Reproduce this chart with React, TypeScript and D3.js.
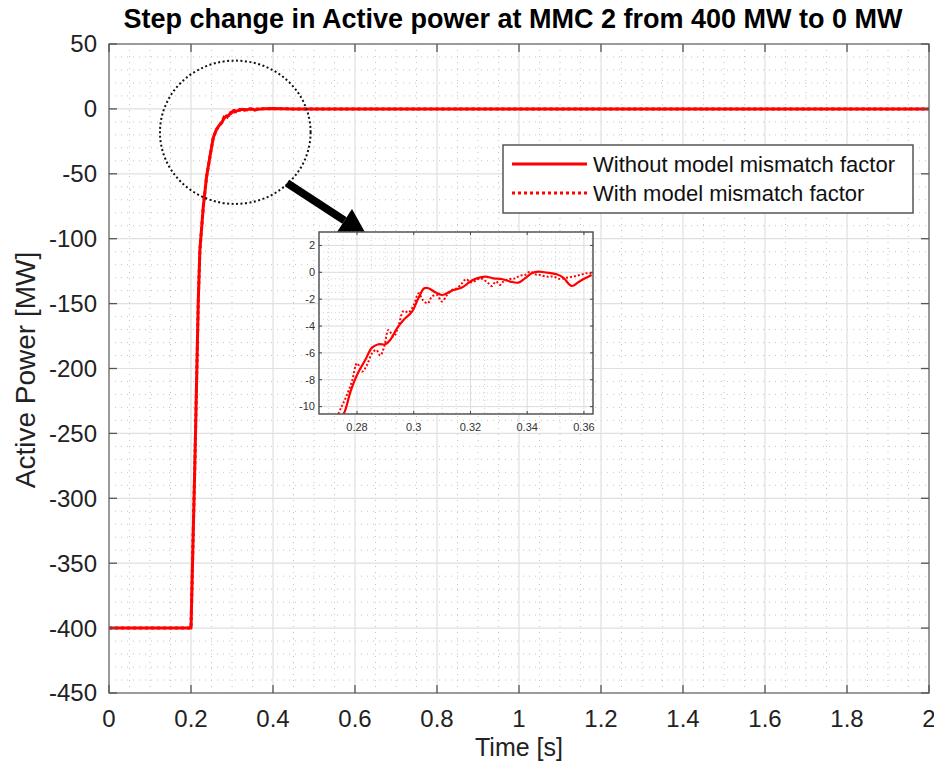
import React from 'react';
import * as d3 from 'd3';

const TITLE = 'Step change in Active power at MMC 2 from 400 MW to 0 MW';
const X_LABEL = 'Time [s]';
const Y_LABEL = 'Active Power [MW]';
const LEGEND_LABELS = ['Without model mismatch factor', 'With model mismatch factor'];

const xTicks = [0, 0.2, 0.4, 0.6, 0.8, 1, 1.2, 1.4, 1.6, 1.8, 2];
const yTicks = [50, 0, -50, -100, -150, -200, -250, -300, -350, -400, -450];
const insetXTicks = [0.28, 0.3, 0.32, 0.34, 0.36];
const insetYTicks = [2, 0, -2, -4, -6, -8, -10];

// Without model mismatch factor (solid)
const solidTime = [
  0, 0.2, 0.2098, 0.2178, 0.2217, 0.23, 0.238, 0.2461, 0.2544, 0.262, 0.268,
  0.2753, 0.2777, 0.28, 0.2829, 0.2853, 0.2876, 0.29, 0.2917, 0.2941, 0.2964, 0.2994,
  0.3017, 0.3037, 0.3052, 0.3076, 0.3099, 0.3117, 0.314, 0.317, 0.3199, 0.3222, 0.3252,
  0.3281, 0.331, 0.334, 0.3369, 0.3392, 0.3416, 0.3439, 0.3469, 0.3504, 0.3527, 0.3557,
  0.358, 0.3604, 0.3627, 0.38, 0.4, 0.42, 0.45, 0.5, 2,
];
const solidPower = [
  -400, -400, -268, -147, -108.7, -75.3, -52.2, -36.8, -22, -16, -13,
  -10.57, -8.88, -7.64, -6.53, -5.61, -5.36, -5.36, -5.04, -4.17, -3.55, -2.93,
  -1.89, -1.19, -1.19, -1.49, -1.69, -1.56, -1.32, -1.14, -0.69, -0.45, -0.32,
  -0.45, -0.5, -0.69, -0.77, -0.45, -0.07, 0.05, -0.02, -0.15, -0.4, -1.02,
  -0.74, -0.45, -0.2, 0.1, 0.3, 0.1, 0, 0, 0,
];

// With model mismatch factor (dotted)
const dottedTime = [
  0, 0.2, 0.2098, 0.2178, 0.2217, 0.23, 0.238, 0.2461, 0.2544, 0.262, 0.268,
  0.2735, 0.2759, 0.2782, 0.28, 0.2818, 0.2835, 0.2853, 0.2868, 0.2882, 0.2896, 0.2911,
  0.2929, 0.2947, 0.2964, 0.2982, 0.3, 0.3017, 0.3032, 0.3049, 0.3064, 0.3082, 0.3099,
  0.3117, 0.3134, 0.3152, 0.317, 0.3185, 0.3199, 0.3216, 0.3234, 0.3248, 0.3263, 0.3275,
  0.329, 0.3304, 0.3318, 0.334, 0.3357, 0.3375, 0.3392, 0.341, 0.3428, 0.3445, 0.3469,
  0.3492, 0.3516, 0.3539, 0.3562, 0.3586, 0.3609, 0.3627, 0.38, 0.4, 0.42, 0.45, 0.5, 2,
];
const dottedPower = [
  -400, -400, -268, -147, -108.7, -75.3, -52.2, -36.8, -22, -16, -13.5,
  -10.5, -9.4, -8.14, -6.77, -7.39, -6.9, -6.03, -5.78, -6.2, -5.53, -4.29,
  -4.79, -3.92, -2.88, -2.98, -2.43, -1.56, -2.06, -2.31, -1.81, -1.69, -2.18,
  -1.69, -1.32, -1.19, -0.82, -0.5, -0.74, -0.65, -0.45, -0.57, -0.82, -1.02,
  -0.69, -0.94, -0.65, -0.5, -0.45, -0.25, -0.2, 0.05, -0.15, -0.2, -0.32,
  -0.32, -0.5, -0.4, -0.32, -0.2, -0.07, -0.07, 0.1, 0.2, 0.1, 0, 0, 0,
];

const FONT = "'Liberation Sans', Arial, Helvetica, sans-serif";
const RED = '#ff0000';

const W = 934, H = 776;
const M = { left: 109, right: 929, top: 44, bottom: 693 };
const INSET = { left: 319, right: 593, top: 232, bottom: 414 };

function range(a: number, b: number, step: number) {
  const out: number[] = [];
  const n = Math.round((b - a) / step);
  for (let i = 0; i <= n; i++) out.push(+(a + i * step).toFixed(6));
  return out;
}

export default function App() {
  const x = d3.scaleLinear().domain([0, 2]).range([M.left, M.right]);
  const y = d3.scaleLinear().domain([-450, 50]).range([M.bottom, M.top]);

  const ix = d3.scaleLinear().domain([0.2666, 0.3632]).range([INSET.left, INSET.right]);
  const iy = d3.scaleLinear().domain([-10.55, 3]).range([INSET.bottom, INSET.top]);

  const solid = solidTime.map((t, i) => [t, solidPower[i]] as [number, number]);
  const dotted = dottedTime.map((t, i) => [t, dottedPower[i]] as [number, number]);

  const mainLine = d3.line<[number, number]>().x(d => x(d[0])).y(d => y(d[1]));
  const insetLine = d3
    .line<[number, number]>()
    .x(d => ix(d[0]))
    .y(d => iy(d[1]))
    .curve(d3.curveCatmullRom.alpha(0.5));

  const minorX = range(0, 2, 0.05).filter(v => Math.abs(v / 0.2 - Math.round(v / 0.2)) > 1e-6);
  const minorY = range(-450, 50, 10).filter(v => v % 50 !== 0);
  const insetMinorX = range(0.27, 0.36, 0.005).filter(
    v => v > 0.2666 && v < 0.3632 && Math.abs(v / 0.02 - Math.round(v / 0.02)) > 1e-6
  );
  const insetMinorY = range(-10.5, 3, 0.5).filter(v => Math.abs(v % 2) > 1e-6);

  // annotation circle (data coords)
  const cx = x(0.308), cy = y(-18);
  const rx = x(0.308 + 0.1837) - cx, ry = y(-18 - 55.2) - cy;

  // arrow
  const ax0 = 287, ay0 = 183;
  const tip = [366, 234];
  const headA = [352, 209];
  const headB = [337, 232];
  const shaftEnd = [(headA[0] + headB[0]) / 2, (headA[1] + headB[1]) / 2];

  return (
    <svg
      width={W}
      height={H}
      style={{ position: 'absolute', left: 0, top: 0, background: '#fff' }}
      fontFamily={FONT}
    >
      <rect x={0} y={0} width={W} height={H} fill="#fff" />
      {/* title */}
      <text x={513} y={28} textAnchor="middle" fontSize={27} fontWeight="bold" fill="#000">
        {TITLE}
      </text>

      {/* main grid */}
      <g>
        {minorX.map(v => (
          <line key={'mx' + v} x1={x(v)} x2={x(v)} y1={M.top} y2={M.bottom} stroke="#c4c4c4" strokeWidth={1} strokeDasharray="1,5" />
        ))}
        {minorY.map(v => (
          <line key={'my' + v} x1={M.left} x2={M.right} y1={y(v)} y2={y(v)} stroke="#c4c4c4" strokeWidth={1} strokeDasharray="1,5" />
        ))}
        {xTicks.map(v => (
          <line key={'gx' + v} x1={x(v)} x2={x(v)} y1={M.top} y2={M.bottom} stroke="#e0e0e0" strokeWidth={1.2} />
        ))}
        {yTicks.map(v => (
          <line key={'gy' + v} x1={M.left} x2={M.right} y1={y(v)} y2={y(v)} stroke="#e0e0e0" strokeWidth={1.2} />
        ))}
      </g>

      {/* lines */}
      <path d={mainLine(solid) || ''} fill="none" stroke={RED} strokeWidth={3} strokeLinejoin="round" />
      <path d={mainLine(dotted) || ''} fill="none" stroke={RED} strokeWidth={3} strokeDasharray="3,3" />

      {/* axes box and ticks */}
      <rect x={M.left} y={M.top} width={M.right - M.left} height={M.bottom - M.top} fill="none" stroke="#6e6e6e" strokeWidth={1.3} />
      {xTicks.map(v => (
        <g key={'tx' + v}>
          <line x1={x(v)} x2={x(v)} y1={M.bottom} y2={M.bottom - 8} stroke="#555" strokeWidth={1.3} />
          <line x1={x(v)} x2={x(v)} y1={M.top} y2={M.top + 8} stroke="#555" strokeWidth={1.3} />
          <text x={x(v)} y={727} textAnchor="middle" fontSize={24} fill="#222">
            {String(v)}
          </text>
        </g>
      ))}
      {yTicks.map(v => (
        <g key={'ty' + v}>
          <line x1={M.left} x2={M.left + 8} y1={y(v)} y2={y(v)} stroke="#555" strokeWidth={1.3} />
          <line x1={M.right} x2={M.right - 8} y1={y(v)} y2={y(v)} stroke="#555" strokeWidth={1.3} />
          <text x={97} y={y(v)} dy="0.35em" textAnchor="end" fontSize={24} fill="#222">
            {String(v)}
          </text>
        </g>
      ))}
      <text x={519} y={756} textAnchor="middle" fontSize={25} fill="#222">
        {X_LABEL}
      </text>
      <text transform={`translate(35, 370) rotate(-90)`} textAnchor="middle" fontSize={28} fill="#222">
        {Y_LABEL}
      </text>

      {/* circle annotation */}
      <ellipse cx={cx} cy={cy} rx={rx} ry={Math.abs(ry)} fill="none" stroke="#111" strokeWidth={2} strokeDasharray="2,2.5" />

      {/* arrow */}
      <line x1={ax0} y1={ay0} x2={shaftEnd[0]} y2={shaftEnd[1]} stroke="#000" strokeWidth={8} />
      <polygon points={`${tip[0]},${tip[1]} ${headA[0]},${headA[1]} ${headB[0]},${headB[1]}`} fill="#000" />

      {/* legend */}
      <g>
        <rect x={503} y={145} width={410} height={68} fill="#fff" stroke="#555" strokeWidth={1.5} />
        <line x1={512} x2={587} y1={164} y2={164} stroke={RED} strokeWidth={3} />
        <line x1={512} x2={587} y1={193} y2={193} stroke={RED} strokeWidth={3} strokeDasharray="3,3" />
        <text x={593} y={164} dy="0.35em" fontSize={22} fill="#111">
          {LEGEND_LABELS[0]}
        </text>
        <text x={593} y={193} dy="0.35em" fontSize={22} fill="#111">
          {LEGEND_LABELS[1]}
        </text>
      </g>

      {/* inset */}
      <g>
        <defs>
          <clipPath id="insetClip">
            <rect x={INSET.left} y={INSET.top} width={INSET.right - INSET.left} height={INSET.bottom - INSET.top} />
          </clipPath>
        </defs>
        <rect x={INSET.left} y={INSET.top} width={INSET.right - INSET.left} height={INSET.bottom - INSET.top} fill="#fff" />
        {insetMinorX.map(v => (
          <line key={'imx' + v} x1={ix(v)} x2={ix(v)} y1={INSET.top} y2={INSET.bottom} stroke="#c8c8c8" strokeWidth={0.8} strokeDasharray="1,3" />
        ))}
        {insetMinorY.map(v => (
          <line key={'imy' + v} x1={INSET.left} x2={INSET.right} y1={iy(v)} y2={iy(v)} stroke="#c8c8c8" strokeWidth={0.8} strokeDasharray="1,3" />
        ))}
        {insetXTicks.map(v => (
          <line key={'igx' + v} x1={ix(v)} x2={ix(v)} y1={INSET.top} y2={INSET.bottom} stroke="#dcdcdc" strokeWidth={1} />
        ))}
        {insetYTicks.map(v => (
          <line key={'igy' + v} x1={INSET.left} x2={INSET.right} y1={iy(v)} y2={iy(v)} stroke="#dcdcdc" strokeWidth={1} />
        ))}
        <g clipPath="url(#insetClip)">
          <path d={insetLine(solid.filter(d => d[0] > 0.26 && d[0] < 0.37)) || ''} fill="none" stroke={RED} strokeWidth={2.2} />
          <path d={insetLine(dotted.filter(d => d[0] > 0.26 && d[0] < 0.37)) || ''} fill="none" stroke={RED} strokeWidth={2} strokeDasharray="2,2" />
        </g>
        <rect x={INSET.left} y={INSET.top} width={INSET.right - INSET.left} height={INSET.bottom - INSET.top} fill="none" stroke="#555" strokeWidth={1.5} />
        {insetXTicks.map(v => (
          <g key={'itx' + v}>
            <line x1={ix(v)} x2={ix(v)} y1={INSET.bottom} y2={INSET.bottom - 3} stroke="#444" />
            <line x1={ix(v)} x2={ix(v)} y1={INSET.top} y2={INSET.top + 3} stroke="#444" />
            <text x={ix(v)} y={431} textAnchor="middle" fontSize={11} fill="#333">
              {String(v)}
            </text>
          </g>
        ))}
        {insetYTicks.map(v => (
          <g key={'ity' + v}>
            <line x1={INSET.left} x2={INSET.left + 3} y1={iy(v)} y2={iy(v)} stroke="#444" />
            <line x1={INSET.right} x2={INSET.right - 3} y1={iy(v)} y2={iy(v)} stroke="#444" />
            <text x={315} y={iy(v)} dy="0.35em" textAnchor="end" fontSize={11} fill="#333">
              {String(v)}
            </text>
          </g>
        ))}
      </g>
    </svg>
  );
}
